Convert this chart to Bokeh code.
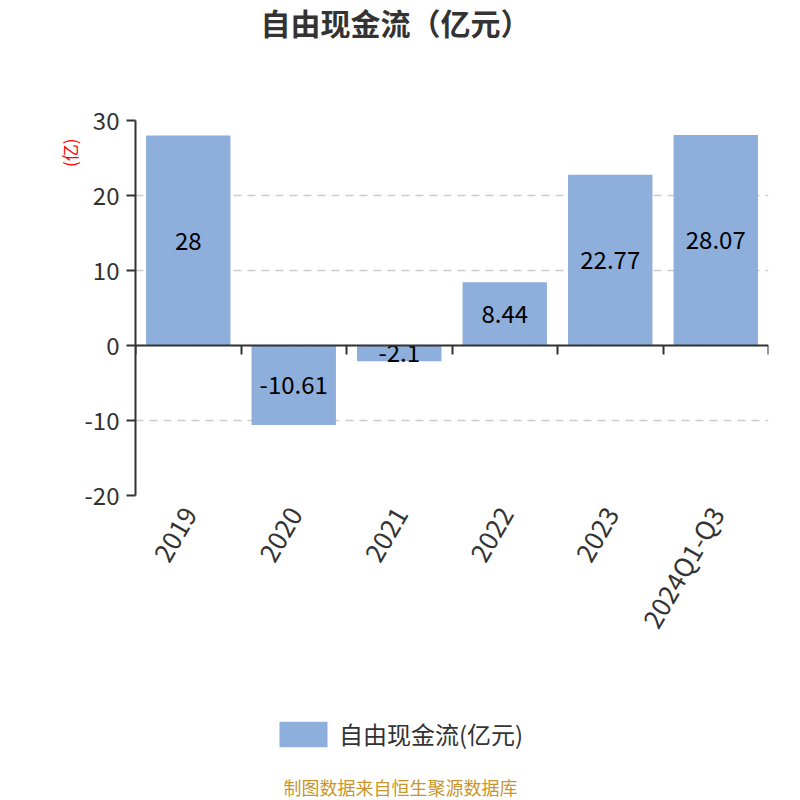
import math
from bokeh.plotting import figure
from bokeh.layouts import column
from bokeh.models import (Range1d, FixedTicker, LinearAxis, Legend, LegendItem, Title, Label,
                          ColumnDataSource, Grid)
from bokeh.embed import file_html
from bokeh.resources import INLINE
from bokeh.core.properties import value

categories = ["2019", "2020", "2021", "2022", "2023", "2024Q1-Q3"]
values = [28, -10.61, -2.1, 8.44, 22.77, 28.07]
y_ticks = [-20, -10, 0, 10, 20, 30]
series_name = "自由现金流(亿元)"
title_text = "自由现金流（亿元）"
unit_text = "(亿)"
source_text = "制图数据来自恒生聚源数据库"

FONT = "Noto Sans CJK SC"
BAR = "#8eaedb"
TXT = "#333333"
W = 800
H_HEAD, H_MAIN, H_FOOT = 60, 630, 110
LEFT, RIGHT = 135, 32
Y0 = 1000  # footer panel's y offset (keeps its swatch series out of view)

n = len(categories)
xs = [i + 0.5 for i in range(n)]
src = ColumnDataSource(dict(x=xs, top=values, mid=[v / 2 for v in values],
                            label=[f"{v:g}" for v in values]))


def blank(h, y0=0):
    # frame aligned with main chart; data units equal page pixels
    f = figure(width=W, height=h, output_backend="svg", toolbar_location=None, title=None,
               x_range=Range1d(LEFT, W - RIGHT), y_range=Range1d(y0, y0 + h),
               x_axis_type=None, y_axis_type=None,
               min_border_left=LEFT, min_border_right=RIGHT, min_border_top=0, min_border_bottom=0)
    f.outline_line_color = None
    return f


# ---------- header (title) ----------
head = blank(H_HEAD)
head.add_layout(Label(x=395, y=H_HEAD - 21, text=title_text, text_align="center",
                      text_baseline="middle", text_font=FONT, text_font_size="30px",
                      text_font_style="bold", text_color=TXT))

# ---------- main chart ----------
p = figure(width=W, height=H_MAIN, output_backend="svg", toolbar_location=None, title=None,
           x_range=Range1d(0, n), y_range=Range1d(y_ticks[0], y_ticks[-1]),
           x_axis_type=None, y_axis_type=None,
           min_border_left=LEFT, min_border_right=RIGHT, min_border_top=60, min_border_bottom=195)
p.outline_line_color = None

grid = Grid(dimension=1, ticker=FixedTicker(ticks=y_ticks), grid_line_color="#cccccc",
            grid_line_dash="8 6", grid_line_width=1.5)
p.add_layout(grid)

yax = LinearAxis(ticker=FixedTicker(ticks=y_ticks),
                 major_label_overrides={t: str(t) for t in y_ticks},
                 axis_line_color=TXT, axis_line_width=2,
                 major_tick_line_color=TXT, major_tick_line_width=2, major_tick_out=9, major_tick_in=0,
                 minor_tick_line_color=None, major_label_text_font=FONT,
                 major_label_text_font_size="24px", major_label_text_color=TXT,
                 major_label_standoff=7)
p.add_layout(yax, "left")

unit = Title(text=unit_text, align="right", text_color="red", text_font=FONT,
             text_font_size="17px", text_font_style="normal", offset=18, standoff=0)
p.add_layout(unit, "left")

zax = LinearAxis(fixed_location=0,
                 ticker=FixedTicker(ticks=[], minor_ticks=list(range(n + 1))),
                 axis_line_color=TXT, axis_line_width=2, major_label_standoff=0,
                 major_tick_line_color=None,
                 minor_tick_line_color=TXT, minor_tick_line_width=2, minor_tick_out=9, minor_tick_in=0)
p.add_layout(zax, "below")

lax = LinearAxis(ticker=FixedTicker(ticks=xs),
                 major_label_overrides={x: c for x, c in zip(xs, categories)},
                 axis_line_color=None, major_tick_line_color=None, minor_tick_line_color=None,
                 major_label_orientation=math.pi / 3, major_label_text_font=FONT,
                 major_label_text_font_size="26px", major_label_text_color=TXT,
                 major_label_standoff=7)
p.add_layout(lax, "below")

p.vbar(x="x", top="top", bottom=0, width=0.8, source=src, fill_color=BAR, line_color=None)
p.text(x="x", y="mid", text="label", source=src, text_align="center", text_baseline="middle",
       text_font=value(FONT), text_font_size="24px", text_color="#000000")

# ---------- footer (legend + source) ----------
foot = blank(H_FOOT, Y0)
# same series in the footer panel (entirely outside its visible range) supplies the legend swatch
leg_r = foot.vbar(x="x", top="top", bottom=0, width=0.8, source=src, fill_color=BAR, line_color=None)
legend = Legend(items=[LegendItem(label=series_name, renderers=[leg_r])], location=(273 - LEFT, 49),
                orientation="horizontal", glyph_width=60, glyph_height=32, label_standoff=6,
                label_text_font=FONT, label_text_font_size="24px", label_text_color=TXT,
                border_line_color=None, background_fill_alpha=0, padding=0, margin=0)
foot.add_layout(legend, "center")
foot.add_layout(Label(x=400, y=Y0 + H_FOOT - 96, text=source_text, text_align="center",
                      text_baseline="middle", text_font=FONT, text_font_size="18px",
                      text_color="#c8962c"))

layout = column(head, p, foot, spacing=0)
open("out.html", "w").write(file_html(layout, INLINE))
